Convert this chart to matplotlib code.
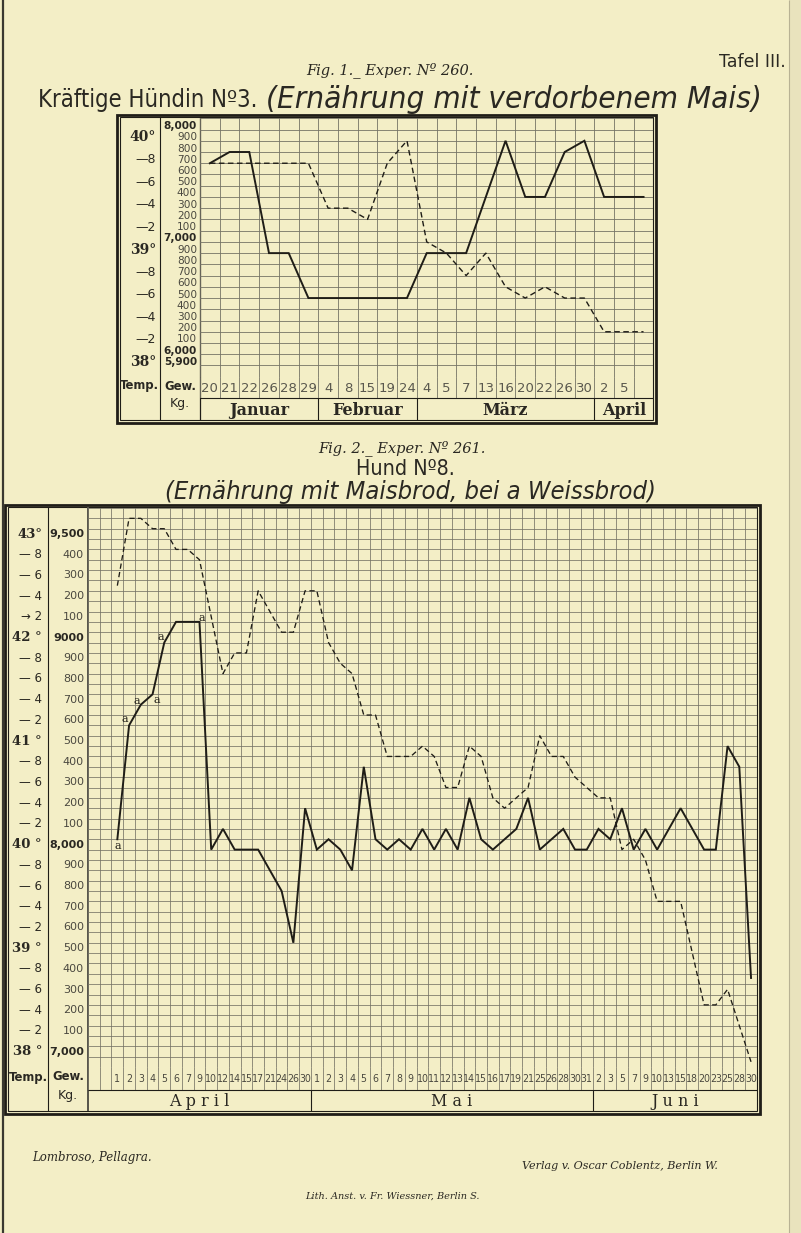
import numpy as np
import matplotlib
matplotlib.use('Agg')
import matplotlib.pyplot as plt
from matplotlib import font_manager as fm
from matplotlib.transforms import blended_transform_factory, offset_copy

W, H = 801, 1233
PAPER = '#f3eec6'
INK = '#1f1d17'
GRID = '#757365'
TXT = '#2a2822'

# ---------------- data: Fig. 1 (Exper. Nº 260) ----------------
f1_months = ['Januar', 'Februar', 'März', 'April']
f1_month_ncols = [6, 5, 9, 3]
f1_dates = ['20', '21', '22', '26', '28', '29',
            '4', '8', '15', '19', '24',
            '4', '5', '7', '13', '16', '20', '22', '26', '30',
            '2', '5', '']
f1_weight_kg = [7.7, 7.8, 7.8, 6.9, 6.9, 6.5,
                6.5, 6.5, 6.5, 6.5, 6.5,
                6.9, 6.9, 6.9, 7.4, 7.9, 7.4, 7.4, 7.8, 7.9,
                7.4, 7.4, 7.4]
f1_temp_c = [39.8, 39.8, 39.8, 39.8, 39.8, 39.8,
             39.4, 39.4, 39.3, 39.8, 40.0,
             39.1, 39.0, 38.8, 39.0, 38.7, 38.6, 38.7, 38.6, 38.6,
             38.3, 38.3, 38.3]
f1_temp_labels = ['40°', '—8', '—6', '—4', '—2', '39°', '—8', '—6', '—4', '—2', '38°']
f1_weight_labels = ['8,000', '900', '800', '700', '600', '500', '400', '300', '200', '100',
                    '7,000', '900', '800', '700', '600', '500', '400', '300', '200', '100',
                    '6,000', '5,900']

# ---------------- data: Fig. 2 (Exper. Nº 261) ----------------
f2_months = ['April', 'Mai', 'Juni']
f2_month_ncols = [19, 24, 14]
f2_dates = ['', '', '1', '2', '3', '4', '5', '6', '7', '9', '10', '12', '14', '15', '17', '21', '24', '26', '30',
            '1', '2', '3', '4', '5', '6', '7', '8', '9', '10', '11', '12', '13', '14', '15', '16', '17', '19',
            '21', '25', '26', '28', '30', '31',
            '2', '3', '5', '7', '9', '10', '13', '15', '18', '20', '23', '25', '28', '30']
f2_temp_c = [42.55, 43.2, 43.2, 43.1, 43.1, 42.9, 42.9, 42.8, 42.25, 41.7, 41.9, 41.9, 42.5, 42.3, 42.1, 42.1, 42.5,
             42.5, 42.0, 41.8, 41.7, 41.3, 41.3, 40.9, 40.9, 40.9, 41.0, 40.9, 40.6, 40.6, 41.0, 40.9, 40.5,
             40.4, 40.5, 40.6, 41.1, 40.9, 40.9, 40.7, 40.6,
             40.5, 40.5, 40.0, 40.1, 39.9, 39.5, 39.5, 39.5, 39.0, 38.5, 38.5, 38.65, 38.3, 37.95]
f2_weight_kg = [8.05, 8.6, 8.7, 8.75, 9.0, 9.1, 9.1, 9.1, 8.0, 8.1, 8.0, 8.0, 8.0, 7.9, 7.8, 7.55, 8.2,
                8.0, 8.05, 8.0, 7.9, 8.4, 8.05, 8.0, 8.05, 8.0, 8.1, 8.0, 8.1, 8.0, 8.25, 8.05, 8.0,
                8.05, 8.1, 8.25, 8.0, 8.05, 8.1, 8.0, 8.0,
                8.1, 8.05, 8.2, 8.0, 8.1, 8.0, 8.1, 8.2, 8.1, 8.0, 8.0, 8.5, 8.4, 7.38]
f2_weissbrod_cols = [2, 3, 4, 5, 6, 9]   # columns marked "a"
f2_temp_labels = ['43°', '— 8', '— 6', '— 4', '→ 2', '42 °', '— 8', '— 6', '— 4', '— 2',
                  '41 °', '— 8', '— 6', '— 4', '— 2', '40 °', '— 8', '— 6', '— 4', '— 2',
                  '39 °', '— 8', '— 6', '— 4', '— 2', '38 °']
f2_weight_labels = ['9,500', '400', '300', '200', '100', '9000', '900', '800', '700', '600',
                    '500', '400', '300', '200', '100', '8,000', '900', '800', '700', '600',
                    '500', '400', '300', '200', '100', '7,000']


def has_font(name):
    try:
        fm.findfont(fm.FontProperties(family=name), fallback_to_default=False)
        return True
    except Exception:
        return False


NARROW = 'Liberation Sans Narrow' if has_font('Liberation Sans Narrow') else 'DejaVu Sans'
SANS = 'DejaVu Sans'
SERIF = 'DejaVu Serif'

fig = plt.figure(figsize=(W / 100, H / 100), dpi=100, facecolor=PAPER)
ov = fig.add_axes([0, 0, 1, 1])
ov.set_xlim(0, W)
ov.set_ylim(H, 0)
ov.axis('off')
renderer = fig.canvas.get_renderer()


def pax(x0, y0, x1, y1):
    ax = fig.add_axes([x0 / W, 1 - y1 / H, (x1 - x0) / W, (y1 - y0) / H])
    ax.set_facecolor('none')
    ax.tick_params(length=0, labelbottom=False, labelleft=False)
    for s in ax.spines.values():
        s.set_visible(False)
    return ax


def hl(y, x0, x1, lw=0.8, c=INK):
    ov.plot([x0, x1], [y, y], color=c, lw=lw, solid_capstyle='butt')


def vl(x, y0, y1, lw=0.8, c=INK):
    ov.plot([x, x], [y0, y1], color=c, lw=lw, solid_capstyle='butt')


def frame(L, T, R, B, gap=2.6):
    ov.add_patch(plt.Rectangle((L, T), R - L, B - T, fill=False, lw=2.0, ec=INK))
    ov.add_patch(plt.Rectangle((L + gap, T + gap), R - L - 2 * gap, B - T - 2 * gap, fill=False, lw=0.8, ec=INK))


def fit(x0, x1, y, s, size=12, **kw):
    t = ov.text((x0 + x1) / 2, y, s, ha='center', va='center', fontsize=size, **kw)
    w = t.get_window_extent(renderer).width
    t.set_fontsize(size * (x1 - x0) / w)
    return t


# ---------------- page texts ----------------
ov.text(752, 62, 'Tafel III.', ha='center', va='center', fontsize=12.5, color=TXT, family=SANS)
ov.text(390, 70, 'Fig. 1._ Exper. Nº 260.', ha='center', va='center', fontsize=10.5,
        style='italic', color=TXT, family=SERIF)
fit(37, 258, 100, 'Kräftige Hündin Nº3.', family=NARROW, color=TXT, fontstretch='condensed')
fit(266, 762, 100, '(Ernährung mit verdorbenem Mais)', family=NARROW, style='italic', color=TXT,
    fontstretch='condensed')

ov.text(402, 448, 'Fig. 2._ Exper. Nº 261.', ha='center', va='center', fontsize=10.5,
        style='italic', color=TXT, family=SERIF)
fit(356, 455, 469, 'Hund Nº8.', family=NARROW, color=TXT, fontstretch='condensed')
fit(165, 655, 492, '(Ernährung mit Maisbrod, bei a Weissbrod)', family=NARROW, style='italic', color=TXT,
    fontstretch='condensed')

ov.text(92, 1157, 'Lombroso, Pellagra.', ha='center', va='center', fontsize=8.5, style='italic',
        color=TXT, family=SERIF)
ov.text(620, 1166, 'Verlag v. Oscar Coblentz, Berlin W.', ha='center', va='center', fontsize=8,
        style='italic', color=TXT, family=SERIF)
ov.text(392, 1196, 'Lith. Anst. v. Fr. Wiessner, Berlin S.', ha='center', va='center', fontsize=7,
        style='italic', color=TXT, family=SERIF)

# page edges
vl(2.5, 0, H, lw=1.6, c='#3a3830')
ov.add_patch(plt.Rectangle((789, 0), 12, H, color='#e9e3bd', lw=0))
vl(789, 0, H, lw=0.8, c='#b8b294')

# =============== Fig. 1 ===============
F1L, F1T, F1R, F1B = 117, 114.5, 656, 422.5
P1L, P1T, P1R, P1B = 200, 118.3, 653.4, 376.7
D1B = 398.3
frame(F1L, F1T, F1R, F1B)
vl(160, F1T + 2.6, F1B - 2.6, lw=0.8)
vl(P1L, F1T + 2.6, F1B - 2.6, lw=0.9)

n1 = len(f1_dates)
y1lo, y1hi = 37.9, 40.2
ax1 = pax(P1L, P1T, P1R, P1B)
ax1.set_xlim(0, n1)
ax1.set_ylim(y1lo, y1hi)
ax1.set_xticks(np.arange(0, n1 + 1))
ax1.set_yticks(np.round(np.arange(y1lo, y1hi + 0.001, 0.1), 2))
ax1.grid(True, color=GRID, lw=0.6)
x1 = np.arange(n1) + 0.5
w1_as_t = np.array(f1_weight_kg) + 32.1          # 0.1 °C  <->  100 g, 40° <-> 7,900
ax1.plot(x1, w1_as_t, color=INK, lw=1.4, solid_joinstyle='miter', zorder=5)
ax1.plot(x1, f1_temp_c, color=INK, lw=1.0, ls=(0, (4, 2.5)), zorder=5)

ax1d = pax(P1L, P1B, P1R, D1B)
ax1d.set_xlim(0, n1)
ax1d.set_ylim(0, 1)
ax1d.set_xticks(np.arange(0, n1 + 1))
ax1d.set_yticks([])
ax1d.grid(True, axis='x', color=GRID, lw=0.6)
for i, d in enumerate(f1_dates):
    ax1d.text(i + 0.5, 0.47, d, ha='center', va='center', fontsize=9.5, color='#5a584e', family=NARROW)
hl(D1B, P1L, P1R, lw=0.8)

ax1m = pax(P1L, D1B, P1R, F1B - 2.6)
ax1m.set_xlim(0, n1)
ax1m.set_ylim(0, 1)
edges = np.concatenate([[0], np.cumsum(f1_month_ncols)])
for e in edges[1:-1]:
    ax1m.axvline(e, color=INK, lw=0.8)
for m, a, b in zip(f1_months, edges[:-1], edges[1:]):
    ax1m.text((a + b) / 2, 0.45, m, ha='center', va='center', fontsize=11.5, fontweight='bold',
              family=SERIF, color=TXT)

tr1 = blended_transform_factory(ov.transData, ax1.transData)
tr1o = offset_copy(tr1, fig=fig, x=0, y=3.5, units='dots')
for k, s in enumerate(f1_temp_labels):
    v = 40.0 - 0.2 * k
    big = '°' in s
    ov.text(156, v, s, transform=tr1o, ha='right', va='center', color=TXT,
            fontsize=10 if big else 9, fontweight='bold' if big else 'normal',
            family=SERIF if big else SANS)
for k, s in enumerate(f1_weight_labels):
    v = 40.1 - 0.1 * k
    big = ',' in s
    ov.text(197, v, s, transform=tr1o, ha='right', va='center', color=TXT if big else '#4a483f',
            fontsize=7.6, fontweight='bold' if big else 'normal', family=SANS)
ov.text(139.5, 386, 'Temp.', ha='center', va='center', fontsize=8.4, fontweight='bold', family=SANS, color=TXT)
ov.text(180, 386, 'Gew.', ha='center', va='center', fontsize=8.4, fontweight='bold', family=SANS, color=TXT)
ov.text(180, 404, 'Kg.', ha='center', va='center', fontsize=9, family=SANS, color=TXT)

# =============== Fig. 2 ===============
F2L, F2T, F2R, F2B = 5, 504.5, 759.5, 1113.5
P2L, P2T, P2R, P2B = 88, 508, 756.9, 1067
D2B = 1089.5
frame(F2L, F2T, F2R, F2B)
vl(48, F2T + 2.6, F2B - 2.6, lw=0.8)
vl(P2L, F2T + 2.6, F2B - 2.6, lw=1.4, c='#55534a')

n2 = len(f2_dates)
y2lo, y2hi = 37.9, 43.3
ax2 = pax(P2L, P2T, P2R, P2B)
ax2.set_xlim(0, n2)
ax2.set_ylim(y2lo, y2hi)
ax2.set_xticks(np.arange(0, n2 + 1))
ax2.set_yticks(np.round(np.arange(y2lo, y2hi + 0.001, 0.1), 2))
ax2.grid(True, color=GRID, lw=0.55)
x2 = np.array([i + 0.5 for i, d in enumerate(f2_dates) if d])
w2_as_t = 42.0 + 2.0 * (np.array(f2_weight_kg) - 9.0)   # 0.2 °C <-> 100 g, 42° <-> 9,000
ax2.plot(x2, w2_as_t, color=INK, lw=1.4, solid_joinstyle='miter', zorder=5)
ax2.plot(x2, f2_temp_c, color=INK, lw=0.95, ls=(0, (4, 2.5)), zorder=5)

a_off = {2: (0, -7), 3: (-4, 6), 4: (-4, 4), 5: (4, -6), 6: (-3, 6), 9: (2, 4)}
for c in f2_weissbrod_cols:
    yv = 42.0 + 2.0 * (f2_weight_kg[list(x2).index(c + 0.5)] - 9.0)
    ax2.annotate('a', (c + 0.5, yv), xytext=a_off.get(c, (0, 5)), textcoords='offset pixels',
                 ha='center', va='center', fontsize=8, family=SERIF, color=INK, zorder=6)

ax2d = pax(P2L, P2B, P2R, D2B)
ax2d.set_xlim(0, n2)
ax2d.set_ylim(0, 1)
ax2d.set_xticks(np.arange(0, n2 + 1))
ax2d.set_yticks([])
ax2d.grid(True, axis='x', color=GRID, lw=0.55)
for i, d in enumerate(f2_dates):
    ax2d.text(i + 0.5, 0.45, d, ha='center', va='center', fontsize=7.6, color='#4a483f',
              family=NARROW, fontstretch='condensed')
hl(D2B, P2L, P2R, lw=0.8)

ax2m = pax(P2L, D2B, P2R, F2B - 2.6)
ax2m.set_xlim(0, n2)
ax2m.set_ylim(0, 1)
edges2 = np.concatenate([[0], np.cumsum(f2_month_ncols)])
for e in edges2[1:-1]:
    ax2m.axvline(e, color=INK, lw=0.8)
for m, a, b in zip(f2_months, edges2[:-1], edges2[1:]):
    ax2m.text((a + b) / 2, 0.45, ' '.join(m), ha='center', va='center', fontsize=11.5,
              family=SERIF, color=TXT)

tr2 = blended_transform_factory(ov.transData, ax2.transData)
tr2o = offset_copy(tr2, fig=fig, x=0, y=5, units='dots')
for k, s in enumerate(f2_temp_labels):
    v = 43.0 - 0.2 * k
    big = '°' in s
    ov.text(42, v, s, transform=tr2o, ha='right', va='center', color=TXT,
            fontsize=9.5 if big else 8.5, fontweight='bold' if big else 'normal',
            family=SERIF if big else SANS)
for k, s in enumerate(f2_weight_labels):
    v = 43.0 - 0.2 * k
    big = ',' in s or s == '9000'
    ov.text(84, v, s, transform=tr2o, ha='right', va='center', color=TXT if big else '#4a483f',
            fontsize=8, fontweight='bold' if big else 'normal', family=SANS)
ov.text(28, 1077, 'Temp.', ha='center', va='center', fontsize=8.4, fontweight='bold', family=SANS, color=TXT)
ov.text(68, 1077, 'Gew.', ha='center', va='center', fontsize=8.4, fontweight='bold', family=SANS, color=TXT)
ov.text(68, 1096, 'Kg.', ha='center', va='center', fontsize=9, family=SANS, color=TXT)

fig.savefig('out.png', dpi=100, facecolor=PAPER)
